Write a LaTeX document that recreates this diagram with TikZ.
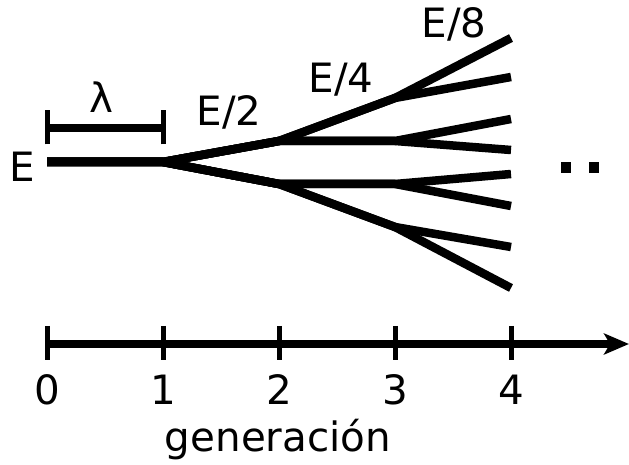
\documentclass[tikz,border=0pt]{standalone}
\usepackage{fontspec}
\setmainfont{DejaVu Sans}
\usetikzlibrary{arrows.meta}

\begin{document}
\begin{tikzpicture}[x=0.02cm,y=-0.02cm,>={Stealth[length=0.5cm,width=0.42cm,inset=0.12cm]},
  every node/.style={font=\fontsize{23}{27}\selectfont,inner sep=0pt},
  branch/.style={line width=0.17cm,line join=round},
  tick/.style={line width=0.1cm}]
\useasboundingbox (0,0) rectangle (629,465);
% tree of energies
\coordinate (src) at (47,162);
\coordinate (g1) at (163,162);
\coordinate (a1) at (279,141);
\coordinate (a2) at (279,184);
\foreach \y [count=\i] in {98,141,184,227} \coordinate (b\i) at (395,\y);
\foreach \y [count=\i] in {38,77,119,150,174,206,247,288} \coordinate (c\i) at (511,\y);
\draw[branch] (src) -- (g1) -- (a1) -- (b1) -- (c1);
\draw[branch] (src) -- (g1) -- (a1) -- (b1) -- (c2);
\draw[branch] (src) -- (g1) -- (a1) -- (b2) -- (c3);
\draw[branch] (src) -- (g1) -- (a1) -- (b2) -- (c4);
\draw[branch] (src) -- (g1) -- (a2) -- (b3) -- (c5);
\draw[branch] (src) -- (g1) -- (a2) -- (b3) -- (c6);
\draw[branch] (src) -- (g1) -- (a2) -- (b4) -- (c7);
\draw[branch] (src) -- (g1) -- (a2) -- (b4) -- (c8);
\node (E0) at (22,167) {E};
\node (E2) at (229,112) {E/2};
\node (E4) at (341,80) {E/4};
\node (E8) at (454,24) {E/8};
% wavelength bracket
\coordinate (l0) at (47,128);
\coordinate (l1) at (163,128);
\draw[line width=0.16cm] (l0) -- (l1);
\draw[tick] ([yshift=-0.33cm]l0) -- ([yshift=0.36cm]l0);
\draw[tick] ([yshift=-0.33cm]l1) -- ([yshift=0.36cm]l1);
\node (lam) at (101,97) {λ};
% dots
\fill (561,162) rectangle (571,173);
\fill (589,162) rectangle (599,173);
% generation axis
\coordinate (ax0) at (47,344);
\coordinate (ax1) at (629,344);
\draw[->,line width=0.16cm] (ax0) -- (ax1);
\foreach \n in {0,...,4} {
  \draw[tick] (47+116*\n,326) -- (47+116*\n,360);
  \node (t\n) at (47+116*\n,390) {\n};
}
\node (gen) at (278,440) {generación};
\end{tikzpicture}
\end{document}
